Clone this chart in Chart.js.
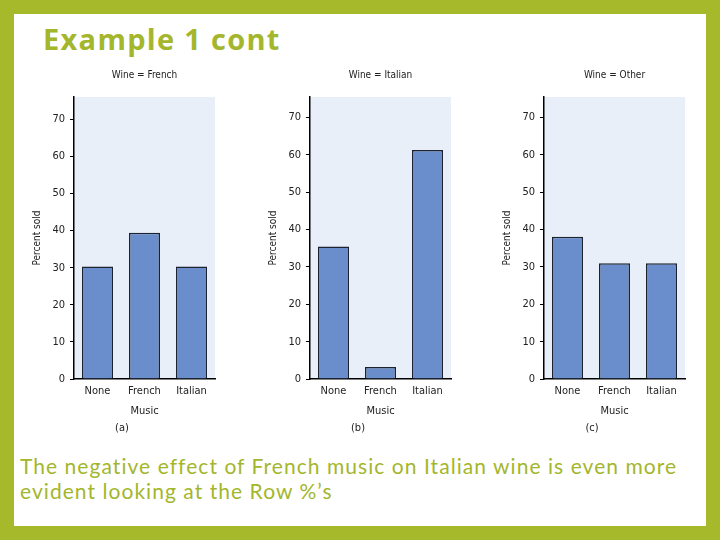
<!DOCTYPE html>
<html>
<head>
<meta charset="utf-8">
<script src="https://cdn.jsdelivr.net/npm/chart.js@4.4.0/dist/chart.umd.min.js"></script>
<style>
  html, body { margin: 0; padding: 0; }
  body { width: 720px; height: 540px; background: #a5b92a; position: relative; overflow: hidden; }
  #page { position: absolute; left: 14px; top: 14px; width: 692px; height: 512px; background: #fff; }
  h1 { position: absolute; left: 43px; top: 20px; margin: 0; font: bold 29px "Open Sans", sans-serif; line-height: 38px; letter-spacing: 1.3px; color: #a3b62c; }
  .panel { position: absolute; top: 60px; width: 218px; height: 380px; }
  #caption { position: absolute; left: 20px; top: 453px; width: 690px; margin: 0; font: 21px Lato, sans-serif; line-height: 25px; letter-spacing: 1.05px; color: #a3b62c; }
</style>
</head>
<body>
<div id="page"></div>
<h1>Example 1 cont</h1>
<div class="panel" style="left:21px"><canvas id="chartA"></canvas></div>
<div class="panel" style="left:257px"><canvas id="chartB"></canvas></div>
<div class="panel" style="left:491px"><canvas id="chartC"></canvas></div>
<p id="caption">The negative effect of French music on Italian wine is even more<br>evident looking at the Row %’s</p>

<script>
// Music played (categories)
var music = ["None", "French", "Italian"];

// Row % of each wine sold under each music condition
var frenchWine = [30.3, 39.4, 30.3];
var italianWine = [35.5, 3.2, 61.3];
var otherWine = [38.1, 31.0, 31.0];

var narrowFont = "'Liberation Sans Narrow', 'DejaVu Sans Condensed', 'Liberation Sans', sans-serif";

// Light blue plot area behind the bars
var plotBackground = {
  id: "plotBackground",
  beforeDraw: function(chart) {
    var a = chart.chartArea;
    chart.ctx.save();
    chart.ctx.fillStyle = "#e8eff9";
    chart.ctx.fillRect(a.left, a.top, a.right - a.left, a.bottom - a.top);
    chart.ctx.restore();
  }
};

function makeChart(id, title, letter, values, maxY) {
  return new Chart(document.getElementById(id), {
    type: "bar",
    data: {
      labels: music,
      datasets: [{
        data: values,
        backgroundColor: "#6a8dcb",
        borderColor: "#1d2230",
        borderWidth: 1.5,
        barPercentage: 0.66,
        categoryPercentage: 1
      }]
    },
    plugins: [plotBackground],
    options: {
      responsive: true,
      maintainAspectRatio: false,
      animation: false,
      layout: { padding: { left: 8, right: 24, top: 0, bottom: 0 } },
      plugins: {
        legend: { display: false },
        tooltip: { enabled: false },
        title: {
          display: true,
          fullSize: false,
          text: title,
          color: "#222",
          font: { family: narrowFont, size: 10, weight: "normal" },
          padding: { top: 9.5, bottom: 15.5 }
        },
        subtitle: {
          display: true,
          position: "bottom",
          text: "(" + letter + ")",
          color: "#222",
          font: { family: narrowFont, size: 11 },
          padding: { top: 2.4, bottom: 5.4 }
        }
      },
      scales: {
        x: {
          grid: { display: false, drawTicks: false },
          border: { display: true, color: "#000", width: 1.5 },
          ticks: { color: "#222", padding: 6, font: { family: narrowFont, size: 11 } },
          title: {
            display: true,
            text: "Music",
            color: "#222",
            font: { family: narrowFont, size: 11 },
            padding: { top: 0, bottom: 1 }
          },
          afterFit: function(scale) { scale.height = 40; }
        },
        y: {
          min: 0,
          max: maxY,
          grid: { display: true, drawOnChartArea: false, drawTicks: true, tickLength: 4, color: "#000" },
          border: { display: true, color: "#000", width: 1.5 },
          ticks: { stepSize: 10, includeBounds: false, color: "#222", padding: 5, font: { family: narrowFont, size: 11 } },
          title: {
            display: true,
            text: "Percent sold",
            color: "#222",
            font: { family: narrowFont, size: 10 },
            padding: { top: 2, bottom: 0 }
          },
          afterFit: function(scale) { scale.width = 45; }
        }
      }
    }
  });
}

makeChart("chartA", "Wine = French", "a", frenchWine, 76);
makeChart("chartB", "Wine = Italian", "b", italianWine, 75.5);
makeChart("chartC", "Wine = Other", "c", otherWine, 75.5);
</script>
</body>
</html>
